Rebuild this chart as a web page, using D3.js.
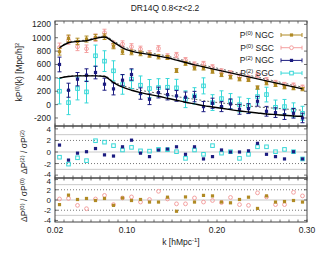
<!DOCTYPE html>
<html>
<head>
<meta charset="utf-8">
<script src="https://cdn.jsdelivr.net/npm/d3@7/dist/d3.min.js"></script>
<style>
  body { margin: 0; background: #fff; }
  text { font-family: "Liberation Sans", Arial, sans-serif; fill: #222; }
</style>
</head>
<body>
<div id="chart"></div>
<script>
// k bins
const kBins = [0.025, 0.035, 0.045, 0.055, 0.065, 0.075, 0.085, 0.095, 0.105, 0.115,
               0.125, 0.135, 0.145, 0.155, 0.165, 0.175, 0.185, 0.195, 0.205, 0.215,
               0.225, 0.235, 0.245, 0.255, 0.265, 0.275, 0.285, 0.295]

// kP(k) measurements
const p0NGC = [790, 990, 945, 980, 1005, 1015, 875, 790, 780, 765, 740, 715, 705, 510,
               615, 545, 545, 495, 445, 410, 380, 370, 255, 320, 295, 260, 245, 230]
const p0NGCerr = [50, 50, 48, 45, 45, 42, 40, 38, 35, 34, 32, 32, 30, 30,
                  28, 28, 28, 26, 26, 26, 25, 25, 25, 24, 24, 24, 23, 23]
const p0SGC = [855, 965, 865, 835, 1000, 1075, 900, 905, 865, 830, 765, 840, 720, 740,
               665, 600, 610, 560, 500, 470, 420, 400, 440, 370, 330, 300, 290, 260]
const p0SGCerr = [65, 62, 58, 56, 55, 52, 50, 48, 46, 44, 42, 42, 40, 40,
                  38, 38, 36, 36, 35, 35, 34, 34, 33, 33, 32, 32, 32, 31]
const p2NGC = [600, 215, 380, 440, 480, 305, 235, 365, 450, 165, 80, 180, 150, 130,
               110, 120, -30, 20, -30, 10, -70, -60, 50, -100, -120, -150, -130, -200]
const p2NGCerr = [110, 105, 100, 95, 95, 90, 90, 85, 85, 85, 80, 80, 80, 80,
                  78, 78, 76, 76, 75, 75, 74, 74, 73, 73, 72, 72, 72, 71]
const p2SGC = [200, 30, 240, 190, 730, 650, 505, 300, 380, 290, 240, 255, 260, 250,
               80, 130, 280, 30, 90, 50, 0, -20, 120, 150, -40, -30, -80, -130]
const p2SGCerr = [190, 180, 170, 165, 160, 155, 150, 145, 140, 138, 135, 132, 130, 128,
                  125, 123, 120, 118, 116, 115, 113, 112, 110, 110, 108, 107, 106, 105]

// best-fit models (solid: NGC, dotted: SGC)
const p0ModelNGC = [850, 925, 945, 955, 990, 1010, 935, 850, 800, 770, 750, 725, 700, 665,
                    630, 595, 565, 535, 505, 475, 445, 415, 385, 355, 325, 295, 265, 235]
const p0ModelSGC = [860, 935, 955, 965, 1000, 1025, 955, 875, 825, 795, 775, 750, 725, 690,
                    655, 620, 590, 560, 530, 500, 470, 440, 410, 380, 350, 320, 290, 260]
const p2ModelNGC = [395, 420, 430, 430, 430, 420, 330, 260, 215, 180, 150, 125, 95, 65,
                    35, 10, -15, -35, -55, -75, -95, -110, -125, -140, -150, -160, -170, -175]
const p2ModelSGC = [400, 425, 435, 435, 435, 430, 345, 285, 245, 215, 190, 170, 145, 120,
                    100, 80, 60, 40, 25, 10, -5, -20, -35, -45, -55, -65, -75, -85]

// normalised residuals
const r2NGC = [1.2, -1.4, -0.2, 0.05, 0.6, -0.5, -0.7, 0.9, 2.05, -0.2, -0.8, 0.35, 0.5, 0.9,
               -0.4, 0.9, -1.2, -0.8, 0.35, 0.0, 0.0, 0.2, 1.5, -0.4, -0.8, -1.2, 0.05, -1.2]
const r2SGC = [-0.9, -2.1, -1.0, -1.5, 1.95, 1.7, 1.1, 0.35, 0.8, 0.2, 0.15, 0.45, 0.4, 0.05,
               -1.1, 0.35, -0.4, 1.1, -0.2, 0.05, -1.1, -0.4, 0.9, 0.9, 0.05, 0.45, 0.05, -1.2]
const r0NGC = [-0.9, 0.95, 0.1, 0.3, -0.1, 0.3, -1.05, 0.4, -0.1, 0.1, -0.4, -0.4, 0.55, -2.2,
               0.6, -0.4, 0.9, 0.8, -0.4, -0.55, 0.1, 0.55, -1.65, 0.8, -0.4, -0.3, -0.1, -0.4]
const r0SGC = [0.2, 0.3, -1.05, -1.7, 0.2, 0.9, -0.9, 0.4, 0.6, -0.4, 0.1, 1.7, 0.2, -0.75,
               -0.75, 0.4, -0.4, -0.1, -0.5, 0.5, -0.9, -1.05, 1.4, 0.6, -0.9, -0.9, 1.5, 0.8]

const xTickLabels = [0.02, 0.10, 0.20, 0.30]
const topTicks = [-200, 0, 200, 400, 600, 800, 1000, 1200]
const resTicks = [-4, -2, 0, 2, 4]

const colors = { p0NGC: "#b08a24", p0SGC: "#f4a0a0", p2NGC: "#1c1c80", p2SGC: "#38d8d8" }

const width = 330, height = 255
const svg = d3.select("#chart").append("svg").attr("width", width).attr("height", height)

const x = d3.scaleLinear().domain([0.02, 0.30]).range([55, 307])
const yTop = d3.scaleLinear().domain([-320, 1250]).range([126, 21])
const yMid = d3.scaleLinear().domain([-4.5, 4.5]).range([178, 126])
const yBot = d3.scaleLinear().domain([-4.3, 4.3]).range([222, 178])

const minorK = d3.range(2, 31).map(d => d / 100)

function panel(y, yTicks, showXLabels, labelShift, fs) {
    const g = svg.append("g")
    const [y1, y0] = y.range()
    // inward ticks on all sides
    g.selectAll(".xt").data(minorK).join("line")
        .attr("x1", d => x(d)).attr("x2", d => x(d))
        .attr("y1", y0).attr("y2", y0 + 2.5)
        .attr("stroke", "#333").attr("stroke-width", 0.7)
    g.selectAll(".xb").data(minorK).join("line")
        .attr("x1", d => x(d)).attr("x2", d => x(d))
        .attr("y1", y1).attr("y2", y1 - 2.5)
        .attr("stroke", "#333").attr("stroke-width", 0.7)
    g.selectAll(".yl").data(yTicks).join("line")
        .attr("x1", 55).attr("x2", 58)
        .attr("y1", d => y(d)).attr("y2", d => y(d))
        .attr("stroke", "#333").attr("stroke-width", 0.7)
    g.selectAll(".yr").data(yTicks).join("line")
        .attr("x1", 304).attr("x2", 307)
        .attr("y1", d => y(d)).attr("y2", d => y(d))
        .attr("stroke", "#333").attr("stroke-width", 0.7)
    g.selectAll(".ylab").data(yTicks).join("text")
        .attr("x", 51).attr("y", d => y(d) + 3 + (labelShift[d] || 0))
        .attr("text-anchor", "end").attr("font-size", fs)
        .text(d => d)
    g.append("rect").attr("x", 55).attr("y", y0).attr("width", 252).attr("height", y1 - y0)
        .attr("fill", "none").attr("stroke", "#444").attr("stroke-width", 1)
    if (showXLabels) {
        g.selectAll(".xlab").data(xTickLabels).join("text")
            .attr("x", d => x(d)).attr("y", y1 + 11)
            .attr("text-anchor", "middle").attr("font-size", 8.5)
            .text(d => d.toFixed(2))
    }
    return g
}

// residual guide lines
function guides(y) {
    const g = svg.append("g")
    ;[-3, 0, 3].forEach(v => g.append("line")
        .attr("x1", 55).attr("x2", 307).attr("y1", y(v)).attr("y2", y(v))
        .attr("stroke", "#bbb").attr("stroke-width", 0.8))
    ;[-2, 2].forEach(v => g.append("line")
        .attr("x1", 55).attr("x2", 307).attr("y1", y(v)).attr("y2", y(v))
        .attr("stroke", "#555").attr("stroke-width", 0.8).attr("stroke-dasharray", "1,2"))
}
guides(yMid)
guides(yBot)

// models
const line = y => d3.line().x((d, i) => x(kBins[i])).y(d => y(d)).curve(d3.curveMonotoneX)
const plotArea = svg.append("g")
;[p0ModelSGC, p2ModelSGC].forEach(m => plotArea.append("path").datum(m)
    .attr("d", line(yTop)).attr("fill", "none").attr("stroke", "#666")
    .attr("stroke-width", 1).attr("stroke-dasharray", "2,2"))

function errorSeries(vals, errs, color, shape) {
    const g = plotArea.append("g")
    vals.forEach((v, i) => {
        const cx = x(kBins[i]), lo = yTop(v - errs[i]), hi = yTop(v + errs[i])
        g.append("line").attr("x1", cx).attr("x2", cx).attr("y1", lo).attr("y2", hi)
            .attr("stroke", color).attr("stroke-width", 1)
        ;[lo, hi].forEach(yy => g.append("line").attr("x1", cx - 2).attr("x2", cx + 2)
            .attr("y1", yy).attr("y2", yy).attr("stroke", color).attr("stroke-width", 1))
    })
    marks(g, vals, yTop, color, shape)
}

function marks(g, vals, y, color, shape) {
    vals.forEach((v, i) => {
        const cx = x(kBins[i]), cy = y(v)
        if (shape === "fsq") g.append("rect").attr("x", cx - 1.6).attr("y", cy - 1.6)
            .attr("width", 3.2).attr("height", 3.2).attr("fill", color)
        else if (shape === "osq") g.append("rect").attr("x", cx - 1.8).attr("y", cy - 1.8)
            .attr("width", 3.6).attr("height", 3.6).attr("fill", "none").attr("stroke", color).attr("stroke-width", 1)
        else g.append("circle").attr("cx", cx).attr("cy", cy).attr("r", 1.9)
            .attr("fill", "none").attr("stroke", color).attr("stroke-width", 1)
    })
}

errorSeries(p2SGC, p2SGCerr, colors.p2SGC, "osq")
errorSeries(p2NGC, p2NGCerr, colors.p2NGC, "fsq")
errorSeries(p0SGC, p0SGCerr, colors.p0SGC, "circ")
errorSeries(p0NGC, p0NGCerr, colors.p0NGC, "fsq")

;[p0ModelNGC, p2ModelNGC].forEach(m => plotArea.append("path").datum(m)
    .attr("d", line(yTop)).attr("fill", "none").attr("stroke", "#000").attr("stroke-width", 1.4))

const resG = svg.append("g")
marks(resG, r2SGC, yMid, colors.p2SGC, "osq")
marks(resG, r2NGC, yMid, colors.p2NGC, "fsq")
marks(resG, r0SGC, yBot, colors.p0SGC, "circ")
marks(resG, r0NGC, yBot, colors.p0NGC, "fsq")

panel(yTop, topTicks, false, {}, 8.5)
panel(yMid, resTicks, false, { "-4": -1 }, 8)
panel(yBot, resTicks, true, { "4": 1 }, 8)

// legend
const legendItems = [
    { sup: "(0)", name: " NGC", color: colors.p0NGC, shape: "fsq" },
    { sup: "(0)", name: " SGC", color: colors.p0SGC, shape: "circ" },
    { sup: "(2)", name: " NGC", color: colors.p2NGC, shape: "fsq" },
    { sup: "(2)", name: " SGC", color: colors.p2SGC, shape: "osq" }
]
const legend = svg.append("g")
legendItems.forEach((d, i) => {
    const ly = 35 + i * 12.7
    const t = legend.append("text").attr("x", 274).attr("y", ly + 3)
        .attr("text-anchor", "end").attr("font-size", 8.5)
    t.append("tspan").text("P")
    t.append("tspan").attr("font-size", 6).attr("dy", -3).text(d.sup)
    t.append("tspan").attr("dy", 3).text(d.name)
    legend.append("line").attr("x1", 281).attr("x2", 302).attr("y1", ly).attr("y2", ly)
        .attr("stroke", d.color).attr("stroke-width", 1)
    ;[281, 302].forEach(xx => legend.append("line").attr("x1", xx).attr("x2", xx)
        .attr("y1", ly - 2).attr("y2", ly + 2).attr("stroke", d.color))
    const lg = legend.append("g")
    const cx = 291.5
    if (d.shape === "fsq") lg.append("rect").attr("x", cx - 1.6).attr("y", ly - 1.6)
        .attr("width", 3.2).attr("height", 3.2).attr("fill", d.color)
    else if (d.shape === "osq") lg.append("rect").attr("x", cx - 1.8).attr("y", ly - 1.8)
        .attr("width", 3.6).attr("height", 3.6).attr("fill", "#fff").attr("stroke", d.color)
    else lg.append("circle").attr("cx", cx).attr("cy", ly).attr("r", 1.9)
        .attr("fill", "#fff").attr("stroke", d.color)
})

// titles
svg.append("text").attr("x", 165).attr("y", 11).attr("text-anchor", "middle")
    .attr("font-size", 8.5).text("DR14Q 0.8<z<2.2")

const xl = svg.append("text").attr("x", 181).attr("y", 245).attr("text-anchor", "middle").attr("font-size", 8.5)
xl.append("tspan").text("k [hMpc")
xl.append("tspan").attr("font-size", 6).attr("dy", -3).text("-1")
xl.append("tspan").attr("dy", 3).text("]")

function yLabel(cx, cy, parts) {
    const t = svg.append("text").attr("transform", `translate(${cx},${cy}) rotate(-90)`)
        .attr("text-anchor", "middle").attr("font-size", 8.5)
    parts.forEach(p => {
        const s = t.append("tspan").text(p[0])
        if (p[1] === "sup") s.attr("font-size", 6).attr("dy", -3)
        if (p[1] === "base") s.attr("dy", 3)
    })
}
yLabel(22, 72, [["kP"], ["(l)", "sup"], ["(k) [Mpc/h]", "base"], ["2", "sup"]])
yLabel(27, 152, [["ΔP"], ["(2)", "sup"], [" / σP", "base"], ["(2)", "sup"]])
yLabel(27, 200, [["ΔP"], ["(0)", "sup"], [" / σP", "base"], ["(0)", "sup"]])
</script>
</body>
</html>
